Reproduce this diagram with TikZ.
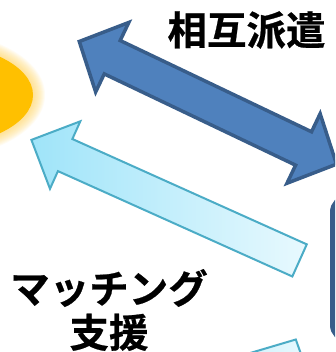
\documentclass[tikz,border=0pt]{standalone}
\usepackage{fontspec}
\newfontfamily\jpfont{Noto Sans CJK JP Bold}[FakeBold=0.6]
\definecolor{darkarrow}{HTML}{4F81BD}
\definecolor{darkedge}{HTML}{385D8A}
\definecolor{lightedge}{HTML}{4BACC6}
\definecolor{lightA}{HTML}{9FE4F9}
\definecolor{lightB}{HTML}{E8F9FE}
\definecolor{sun}{HTML}{FFC000}
\definecolor{glow}{HTML}{FFD966}
\tikzset{
  bigarrow/.style={fill=darkarrow, draw=darkedge, line width=3.5pt, line join=miter},
  lightarrow/.style={left color=lightA, right color=lightB, draw=lightedge, line width=2pt, line join=miter},
  jptext/.style={font=\jpfont\fontsize{39.5}{44}\selectfont, text=black, inner sep=0pt, align=center}
}
\begin{document}
\begin{tikzpicture}[x=1pt,y=-1pt]
\useasboundingbox (0,0) rectangle (335,352);
\fill[white] (0,0) rectangle (335,352);
\clip (0,0) rectangle (335,352);
% glowing sun shape
\foreach \i in {1,...,12}
  \fill[glow, opacity=0.08] (-70,95) ellipse [x radius=103+\i, y radius=52+\i];
\fill[sun] (-70,95) ellipse [x radius=103, y radius=52];
% box at right
\draw[darkedge, line width=6pt, fill=white, rounded corners=14pt] (333,198) rectangle (430,339);
% double arrow
\begin{scope}[shift={(207.9,102.85)}, rotate=-25.5]
  \draw[bigarrow] (-142.5,0) -- (-106,-38.5) -- (-106,-18.5) -- (106,-18.5) -- (106,-38.5)
    -- (142.5,0) -- (106,38.5) -- (106,18.5) -- (-106,18.5) -- (-106,38.5) -- cycle;
\end{scope}
% light arrow
\begin{scope}[shift={(31.4,139.9)}, rotate=-24.2]
  \shadedraw[lightarrow] (0,0) -- (37,-37) -- (37,-17.6) -- (294,-17.6) -- (294,17.6)
    -- (37,17.6) -- (37,37) -- cycle;
\end{scope}
% lower light arrow (tail only visible)
\shadedraw[lightarrow] (295.8,339.5) -- (307.6,372.5) -- (115.8,429.3) -- (104,396.3) -- cycle;
% texts
\node[jptext] (haken) at (246.5,30) {相互派遣};
\node[jptext] (match) at (109,310) {マッチング\\支援};
\end{tikzpicture}
\end{document}
